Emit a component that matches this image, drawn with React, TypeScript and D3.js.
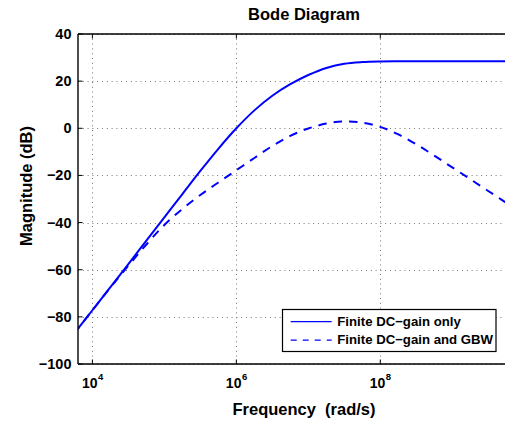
import React from 'react';
import * as d3 from 'd3';

// Frequencies (rad/s), quarter-decade steps
const frequencies = [
  5.62e3, 1e4, 1.78e4, 3.16e4, 5.62e4, 1e5, 1.78e5, 3.16e5, 5.62e5,
  1e6, 1.78e6, 3.16e6, 5.62e6, 1e7, 1.78e7, 3.16e7, 5.62e7,
  1e8, 1.78e8, 3.16e8, 5.62e8, 1e9, 1.78e9, 3.16e9, 5.62e9, 1e10, 1.78e10,
];

// Magnitude (dB): finite DC-gain only
const dcGainOnly = [
  -87.0, -77.2, -67.4, -57.6, -47.7, -37.8, -27.9, -18.1, -8.7,
  0.0, 7.6, 13.8, 18.7, 22.6, 25.6, 27.4, 28.1,
  28.35, 28.4, 28.4, 28.4, 28.4, 28.4, 28.4, 28.4, 28.4, 28.4,
];

// Magnitude (dB): finite DC-gain and GBW
const dcGainAndGbw = [
  -87.0, -77.2, -67.5, -58.3, -49.3, -41.0, -34.2, -28.3, -23.0,
  -17.8, -12.6, -7.5, -3.2, -0.1, 2.0, 2.9, 2.4,
  0.6, -2.6, -6.8, -11.6, -16.6, -21.6, -26.6, -31.6, -36.6, -41.6,
];

const seriesNames = ['Finite DC\u2212gain only', 'Finite DC\u2212gain and GBW'];
const yTicks = [40, 20, 0, -20, -40, -60, -80, -100];
const xTicks = [1e4, 1e6, 1e8];
const xTickExponents = ['4', '6', '8'];

const W = 505;
const H = 421;
const L = 78, R = 530, T = 34, B = 364;
const FONT = '"Liberation Sans", Arial, Helvetica, sans-serif';

function fmtY(v: number) {
  return v < 0 ? '\u2212' + Math.abs(v) : String(v);
}

export default function App() {
  const x = d3.scaleLog().domain([10 ** 3.8, 10 ** 10.08]).range([L, R]);
  const y = d3.scaleLinear().domain([-100, 40]).range([B, T]);

  const line = d3
    .line<[number, number]>()
    .x((d) => x(d[0]))
    .y((d) => y(d[1]))
    .curve(d3.curveCatmullRom.alpha(0.5));

  const solidPath = line(frequencies.map((f, i) => [f, dcGainOnly[i]] as [number, number])) || '';
  const dashPath = line(frequencies.map((f, i) => [f, dcGainAndGbw[i]] as [number, number])) || '';

  const blue = '#0000ff';
  const gridColor = '#777';

  // legend box
  const lgX = 282.5, lgY = 309.5, lgW = 213.5, lgH = 42;

  return (
    <svg
      width={W}
      height={H}
      style={{ position: 'absolute', left: 0, top: 0, display: 'block', background: '#fff' }}
      fontFamily={FONT}
      fontWeight="bold"
    >
      <defs>
        <clipPath id="plotClip">
          <rect x={L} y={T} width={R - L} height={B - T} />
        </clipPath>
      </defs>
      <rect x={0} y={0} width={W} height={H} fill="#fff" />

      {/* grid */}
      <g stroke={gridColor} strokeWidth={1} strokeDasharray="1 3.8" fill="none">
        {yTicks.map((t) => (
          <line key={'gy' + t} x1={L} x2={R} y1={Math.round(y(t)) + 0.5} y2={Math.round(y(t)) + 0.5} />
        ))}
        {xTicks.map((t) => (
          <line key={'gx' + t} x1={Math.round(x(t)) + 0.5} x2={Math.round(x(t)) + 0.5} y1={T} y2={B} />
        ))}
      </g>

      {/* curves */}
      <g clipPath="url(#plotClip)" fill="none">
        <path d={solidPath} stroke={blue} strokeWidth={2} />
        <path d={dashPath} stroke={blue} strokeWidth={2} strokeDasharray="8.5 7" />
      </g>

      {/* frame and ticks */}
      <g stroke="#000" strokeWidth={1.4} fill="none">
        <line x1={L} x2={R} y1={T} y2={T} />
        <line x1={L} x2={R} y1={B} y2={B} />
        <line x1={L} x2={L} y1={T} y2={B} />
        <line x1={R} x2={R} y1={T} y2={B} />
        {xTicks.map((t) => (
          <g key={'tx' + t}>
            <line x1={x(t)} x2={x(t)} y1={B} y2={B - 4.5} strokeWidth={1} />
            <line x1={x(t)} x2={x(t)} y1={T} y2={T + 4.5} strokeWidth={1} />
          </g>
        ))}
        {yTicks.map((t) => (
          <line key={'ty' + t} x1={L} x2={L + 4.5} y1={y(t)} y2={y(t)} strokeWidth={1} />
        ))}
      </g>

      {/* y tick labels */}
      <g fontSize={14.5} textAnchor="end" fill="#000">
        {yTicks.map((t) => (
          <text key={'ly' + t} x={71.5} y={y(t) + 5}>
            {fmtY(t)}
          </text>
        ))}
      </g>

      {/* x tick labels */}
      <g fill="#000">
        {xTicks.map((t, i) => (
          <text key={'lx' + t} x={x(t) - 10.5} y={387.5} fontSize={14}>
            10
            <tspan fontSize={9.5} dx={0.5} dy={-7.5}>
              {xTickExponents[i]}
            </tspan>
          </text>
        ))}
      </g>

      {/* title and axis labels */}
      <text x={(L + R) / 2} y={20} fontSize={16.5} textAnchor="middle" fill="#000">
        Bode Diagram
      </text>
      <text x={(L + R) / 2} y={414.5} fontSize={16.5} textAnchor="middle" fill="#000" style={{ whiteSpace: 'pre' }}>
        {'Frequency  (rad/s)'}
      </text>
      <text
        transform={`translate(31.5, ${(T + B) / 2 - 13}) rotate(-90)`}
        fontSize={16.5}
        textAnchor="middle"
        fill="#000"
      >
        Magnitude (dB)
      </text>

      {/* legend */}
      <g>
        <rect x={lgX} y={lgY} width={lgW} height={lgH} fill="#fff" stroke="#000" strokeWidth={1.2} />
        <line x1={290.7} x2={331.7} y1={321.7} y2={321.7} stroke={blue} strokeWidth={1.2} />
        <line x1={290.7} x2={331.7} y1={340.2} y2={340.2} stroke={blue} strokeWidth={1.2} strokeDasharray="6 6" />
        <text x={337.3} y={325.8} fontSize={13.2} fill="#000">
          {seriesNames[0]}
        </text>
        <text x={337.3} y={344.3} fontSize={13.2} fill="#000">
          {seriesNames[1]}
        </text>
      </g>
    </svg>
  );
}
